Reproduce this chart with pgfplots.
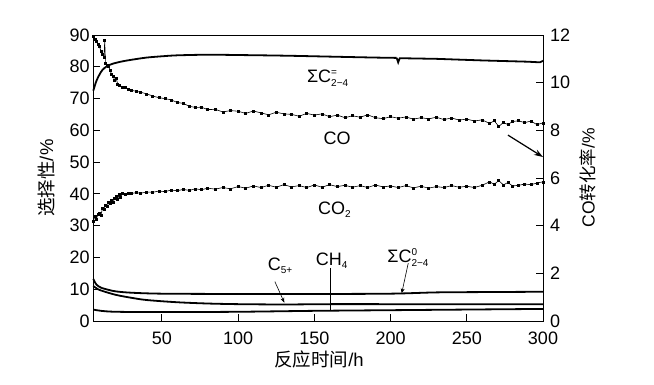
\documentclass[border=0pt]{standalone}
\usepackage{pgfplots}
\pgfplotsset{compat=1.18}
\usepackage{fontspec}
\setmainfont{Liberation Sans}
\newfontfamily\cjk{Noto Sans CJK SC}
\usetikzlibrary{arrows.meta}

\newcommand{\bigf}{\fontsize{18}{20}\selectfont}
\newcommand{\smf}{\fontsize{10}{11}\selectfont}
\newcommand{\labf}{\fontsize{18.5}{20}\selectfont}

\begin{document}
\begin{tikzpicture}
\useasboundingbox (0,0) rectangle (654pt,385pt);
\begin{axis}[
  at={(93.3pt,64pt)}, anchor=south west,
  scale only axis, width=449.7pt, height=286pt,
  xmin=5, xmax=300, ymin=0, ymax=90,
  xtick={50,100,150,200,250,300},
  ytick={0,10,20,30,40,50,60,70,80,90},
  xtick pos=bottom, ytick pos=left,
  tick align=inside, major tick length=7pt,
  axis line style={line width=0.8pt}, tick style={line width=0.8pt,black},
  /pgf/number format/assume math mode=true,
  ticklabel style={font=\bigf, inner sep=0.5pt},
  yticklabel style={xshift=-3pt},
  xticklabel style={yshift=-10.5pt},
  xlabel={{\cjk 反应时间}/h},
  xlabel style={font=\labf, at={(axis description cs:0.502,-0.136)}, anchor=center},
  ylabel={{\cjk 选择性}/\%},
  ylabel style={font=\labf, at={(axis description cs:-0.105,0.5)}, anchor=center},
  clip=false,
]
% Sum C2-4 olefins
\addplot[black, line width=1.8pt, smooth] coordinates {
(5,72.5) (7,75.5) (9,77.5) (11,79) (14,80.2) (18,81) (24,81.7) (30,82.2) (40,82.9) (50,83.3) (60,83.6) (80,83.8) (100,83.7) (130,83.5) (160,83.2) (190,82.9) (204,82.8)};
\addplot[black, line width=1.8pt] coordinates {
(204,82.8) (205,81.4) (206,82.7) (230,82.5) (260,82.0) (290,81.6) (298,81.4) (300,81.9)};
% CO2 selectivity
\addplot[black, line width=0.6pt, mark=square*, mark size=1pt] coordinates {
(5,31.5) (6,32.8) (7,32) (8,33.5) (9,34) (10,33.2) (11,35.5) (12,35) (13,36.5) (14,36) (15,37.2) (16,37) (17,38) (18,37.5) (19,38.5) (20,39.2) (21,38.4) (22,39.8) (23,38.8) (24,40.2) (26,40.0) (28,40.3) (30,40.1) (33,40.4) (36,40.2) (40,40.6) (44,40.5) (48,40.9) (52,40.7) (56,41.2) (60,41.0) (64,41.4) (68,41.1) (72,41.6) (76,41.3) (80,41.8) (85,41.5) (90,42.0) (95,41.6) (100,42.3) (105,41.8) (110,42.5) (115,42.0) (120,42.7) (125,42.1) (130,42.9) (135,42.2) (140,42.6) (145,42.0) (150,42.8) (155,42.1) (160,42.9) (165,42.3) (170,42.7) (175,42.1) (180,42.6) (185,42.0) (190,42.8) (195,42.2) (200,42.5) (205,42.0) (210,42.6) (215,41.9) (220,42.4) (225,41.8) (230,42.3) (235,42.0) (240,42.6) (245,42.1) (250,42.4) (255,42.0) (260,42.7) (265,43.8) (268,43.0) (271,44.2) (274,42.8) (277,43.6) (280,42.5) (284,42.7) (288,43.1) (292,42.9) (296,43.4) (300,43.8)};
% Sum C2-4 paraffins
\addplot[black, line width=1.8pt, smooth] coordinates {
(5,13.2) (7,11.5) (10,10.5) (15,9.8) (20,9.3) (30,8.9) (50,8.6) (100,8.5) (150,8.5) (200,8.6) (230,9.0) (260,9.1) (300,9.2)};
% C5+
\addplot[black, line width=1.8pt, smooth] coordinates {
(5,11) (8,10) (12,9.3) (20,8.2) (30,7.3) (40,6.6) (60,5.9) (80,5.5) (100,5.3) (130,5.2) (160,5.3) (200,5.3) (250,5.3) (300,5.3)};
% CH4
\addplot[black, line width=1.8pt, smooth] coordinates {
(5,3.6) (10,3.2) (20,2.9) (50,2.8) (100,2.9) (150,3.2) (200,3.4) (250,3.6) (300,3.8)};

% annotations
\node[anchor=base west, inner sep=0pt, font=\bigf] at (axis cs:145.1,75.2) {ΣC\rlap{\raisebox{-4pt}{\smf 2−4}}\raisebox{7pt}{\smf =}};
\node[anchor=base west, inner sep=0pt, font=\bigf] at (axis cs:155.9,55.4) {CO};
\node[anchor=base west, inner sep=0pt, font=\bigf] at (axis cs:152.4,33.4) {CO\raisebox{-3pt}{\smf 2}};
\node[anchor=base west, inner sep=0pt, font=\bigf] at (axis cs:119.4,16.0) {C\raisebox{-3pt}{\smf 5+}};
\node[anchor=base west, inner sep=0pt, font=\bigf] at (axis cs:150.9,17.6) {CH\raisebox{-3pt}{\smf 4}};
\node[anchor=base west, inner sep=0pt, font=\bigf] at (axis cs:197.8,18.3) {ΣC\rlap{\raisebox{-4pt}{\smf 2−4}}\raisebox{7pt}{\smf 0}};
\draw[-{Stealth[length=5pt,width=4pt]}, line width=0.6pt] (axis cs:124.1,12.4) -- (axis cs:130.3,5.8);
\draw[line width=0.6pt] (axis cs:160.2,16.7) -- (axis cs:160.2,3.5);
\draw[-{Stealth[length=5pt,width=4pt]}, line width=0.6pt] (axis cs:211.6,18.2) -- (axis cs:207.3,8.7);
\draw[-{Stealth[length=9pt,width=6pt]}, line width=1.2pt] (axis cs:277,58.5) -- (axis cs:300,51.6);
\end{axis}

\begin{axis}[
  at={(93.3pt,64pt)}, anchor=south west,
  scale only axis, width=449.7pt, height=286pt,
  xmin=5, xmax=300, ymin=0, ymax=12,
  axis x line=none, axis y line*=right,
  ytick={0,2,4,6,8,10,12},
  ytick pos=right,
  tick align=inside, major tick length=7pt,
  axis line style={line width=0.8pt}, tick style={line width=0.8pt,black},
  /pgf/number format/assume math mode=true,
  ticklabel style={font=\bigf, inner sep=0.5pt},
  yticklabel style={xshift=6.5pt},
  ylabel={CO{\cjk 转化率}/\%},
  ylabel style={font=\fontsize{17.5}{19}\selectfont, at={(axis description cs:1.100,0.5)}, anchor=center},
  clip=false,
]
% CO conversion
\addplot[black, line width=0.6pt, mark=square*, mark size=1pt] coordinates {
(5,11.93) (6,11.84) (7,11.73) (8,11.60) (9,11.53) (10,11.33) (11,11.20) (12,11.07) (12.5,11.76) (13,10.80) (14,10.73) (15,10.67) (16,10.53) (17,10.33) (18,10.27) (19,10.11) (20,10.20) (21,9.93) (22,9.91) (24,9.81) (26,9.79) (28,9.73) (30,9.68) (33,9.64) (36,9.60) (40,9.53) (44,9.44) (48,9.37) (52,9.33) (56,9.28) (60,9.17) (64,9.13) (68,9.01) (72,8.96) (76,8.97) (80,8.87) (85,8.88) (90,8.77) (95,8.83) (100,8.80) (105,8.71) (110,8.81) (115,8.73) (120,8.65) (125,8.76) (130,8.69) (135,8.67) (140,8.59) (145,8.71) (150,8.64) (155,8.69) (160,8.57) (165,8.64) (170,8.53) (175,8.61) (180,8.55) (185,8.65) (190,8.53) (195,8.49) (200,8.57) (205,8.51) (210,8.56) (215,8.47) (220,8.53) (225,8.48) (230,8.55) (235,8.45) (240,8.52) (245,8.43) (250,8.47) (255,8.39) (260,8.44) (265,8.29) (268,8.40) (271,8.16) (274,8.33) (277,8.24) (280,8.37) (284,8.40) (288,8.32) (292,8.39) (296,8.24) (300,8.31)};
\end{axis}
\end{tikzpicture}
\end{document}
